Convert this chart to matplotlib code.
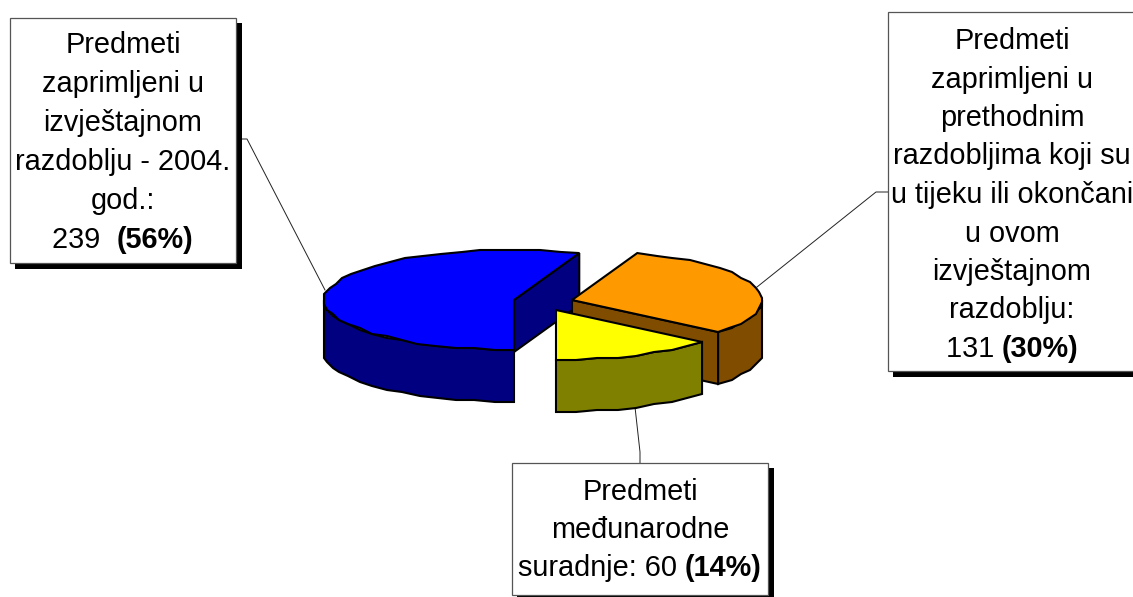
#!/usr/bin/env python3
import numpy as np
import matplotlib
matplotlib.use('Agg')
import matplotlib.pyplot as plt

plt.rcParams['font.family'] = ['Liberation Sans', 'DejaVu Sans']

# slices, in drawing order
values = [239, 131, 60]
top_colors = ['#0000ff', '#ff9900', '#ffff00']
side_colors = ['#000080', '#804c00', '#808000']

# box texts, last line is split in plain and bold part
box_lines = [
    ['Predmeti', 'zaprimljeni u', 'izvještajnom', 'razdoblju - 2004.', 'god.:'],
    ['Predmeti', 'zaprimljeni u', 'prethodnim', 'razdobljima koji su',
     'u tijeku ili okončani', 'u ovom', 'izvještajnom', 'razdoblju:'],
    ['Predmeti', 'međunarodne'],
]
box_last = [('239  ', '(56%)'), ('131 ', '(30%)'), ('suradnje: 60 ', '(14%)')]

# layout, in pixels
W, H = 1133, 597
centers = [(514, 300), (572, 300), (556, 310)]
rx, ry, depth = 190, 50, 52
boxes = [(10, 18, 236, 263), (888, 12, 1140, 371), (512, 463, 768, 595)]
text_x = [123, 1012, 640]
text_y = [45, 41, 492]
line_step = [39, 38.5, 38]
leaders = [
    ([236, 247, 325], [139, 139, 290]),
    ([888, 876, 757], [192, 192, 287]),
    ([640, 640, 635], [463, 452, 407]),
]

fig = plt.figure(figsize=(W / 100, H / 100), dpi=100)
ax = fig.add_axes([0, 0, 1, 1])
ax.set_xlim(0, W)
ax.set_ylim(H, 0)
ax.axis('off')


def arc(c, a0, a1, dy=0):
    # rim of the disc, coarse steps give the stepped edge of the old chart
    n = max(int(abs(a1 - a0) / 6), 1) + 1
    t = np.radians(np.linspace(a0, a1, n))
    x = c[0] + rx * np.cos(t)
    y = c[1] - ry * np.sin(t) + dy
    x[1:-1] = np.round(x[1:-1] / 3) * 3
    y[1:-1] = np.round(y[1:-1] / 2) * 2
    return x, y


def poly(x, y, color):
    ax.fill(x, y, facecolor=color, edgecolor='black', lw=1.5, joinstyle='miter', zorder=3)


# first slice ends at the front of the pie and runs clockwise
angle = 270.0
for v, c, top, side in zip(values, centers, top_colors, side_colors):
    hi = angle
    lo = angle - v / sum(values) * 360
    angle = lo

    # outer wall, only the front half of the rim shows
    if lo < 0:
        a, b = lo, min(hi, 0)
    else:
        a, b = 180, hi
    xa, ya = arc(c, a, b)
    xb, yb = arc(c, b, a, depth)
    poly(np.r_[xa, xb], np.r_[ya, yb], side)

    # cut face
    if -90 < lo < 90:
        xe, ye = arc(c, lo, lo)
        xe, ye = xe[0], ye[0]
        poly([c[0], xe, xe, c[0]], [c[1], ye, ye + depth, c[1] + depth], side)

    xt, yt = arc(c, lo, hi)
    poly(np.r_[c[0], xt], np.r_[c[1], yt], top)

for lx, ly in leaders:
    ax.plot(lx, ly, color='#222222', lw=0.7, zorder=2)

renderer = fig.canvas.get_renderer()
fs = 20.8
for b, lines, last, tx, ty, step in zip(boxes, box_lines, box_last, text_x, text_y, line_step):
    x0, y0, x1, y1 = b
    ax.fill([x0 + 5, x1 + 6, x1 + 6, x0 + 5], [y0 + 5, y0 + 5, y1 + 6, y1 + 6],
            color='black', lw=0, zorder=4)
    ax.fill([x0, x1, x1, x0], [y0, y0, y1, y1], facecolor='white',
            edgecolor='#555555', lw=0.9, zorder=5)
    for i, s in enumerate(lines):
        ax.text(tx, ty + i * step, s, fontsize=fs, ha='center', va='center', zorder=6)
    y = ty + len(lines) * step
    # plain and bold part side by side, centred together
    t1 = ax.text(0, y, last[0], fontsize=fs, ha='left', va='center', zorder=6)
    t2 = ax.text(0, y, last[1], fontsize=fs, fontweight='bold', ha='left', va='center', zorder=6)
    t1.set_text(last[0].replace(' ', '\u00a0'))
    w1 = t1.get_window_extent(renderer).width
    w2 = t2.get_window_extent(renderer).width
    t1.set_x(tx - (w1 + w2) / 2)
    t2.set_x(tx - (w1 + w2) / 2 + w1)

fig.savefig('out.png', dpi=100)
